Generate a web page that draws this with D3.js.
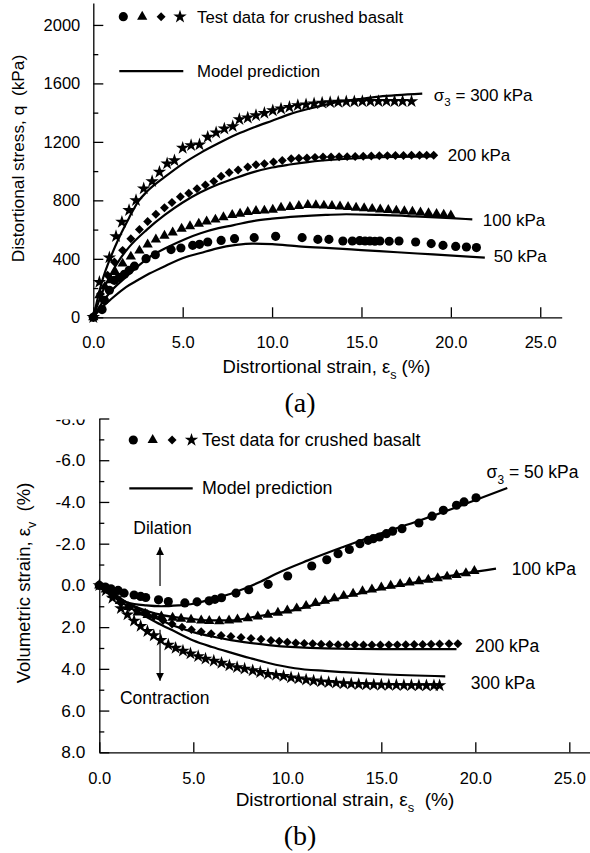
<!DOCTYPE html>
<html>
<head>
<meta charset="utf-8">
<script src="https://cdn.jsdelivr.net/npm/d3@7"></script>
<style>
body { margin: 0; background: #fff; }
text { font-family: "Liberation Sans", Arial, sans-serif; fill: #000; }
.axis path, .axis line { stroke: #000; stroke-width: 1.3px; }
.axis text { font-family: "Liberation Sans", Arial, sans-serif; font-size: 16.5px; }
</style>
</head>
<body>
<svg id="chart" width="590" height="853"></svg>
<script>
// ---------- (a) distortional stress q (kPa) vs distortional strain (%) ----------
var strainTicks = [0, 5, 10, 15, 20, 25];
var qTicks = [0, 400, 800, 1200, 1600, 2000];
var qMinorTicks = [200, 600, 1000, 1400, 1800];

var testQ50 = [[0,0],[0.49,53],[0.62,116],[0.9,185],[1.18,253],[1.45,272],[1.74,294],[2.0,321],[2.3,350],[2.95,401],[3.47,428],[4.35,463],[4.9,474],[5.56,492],[5.94,499],[6.4,515],[7.15,526],[7.9,538],[9.0,545],[10.2,554],[11.68,545],[12.56,533],[13.18,533],[13.96,522],[14.49,522],[14.9,524],[15.2,522],[15.47,522],[15.75,520],[16.03,522],[16.55,520],[17.1,522],[18.03,515],[18.9,504],[19.56,492],[20.27,485],[20.87,481],[21.43,477]];
var testQ100 = [[0,0],[0.34,150],[0.65,210],[1.0,253],[1.23,310],[1.64,367],[2.1,415],[2.58,456],[3.04,498],[3.5,532],[3.98,558],[4.44,580],[4.94,606],[5.41,623],[5.9,640],[6.34,655],[6.83,668],[7.28,685],[7.77,700],[8.21,709],[8.64,720],[9.1,727],[9.57,730],[10.04,736],[10.5,750],[11.0,754],[11.5,761],[12.0,768],[12.45,766],[12.9,764],[13.35,762],[13.8,758],[14.25,755],[14.7,750],[15.15,746],[15.6,742],[16.05,738],[16.5,734],[16.95,730],[17.4,726],[17.85,722],[18.3,717],[18.75,712],[19.2,707],[19.6,702],[20.0,697]];
var testQ200 = [[0,0],[0.4,160],[0.8,287],[1.18,378],[1.64,458],[2.1,538],[2.58,600],[3.04,655],[3.5,705],[3.98,750],[4.4,785],[4.87,825],[5.34,848],[5.8,880],[6.27,905],[6.74,930],[7.15,965],[7.6,990],[8.1,1008],[8.64,1028],[9.1,1044],[9.57,1051],[10.08,1062],[10.57,1073],[11.07,1085],[11.5,1088],[11.95,1090],[12.4,1094],[12.85,1096],[13.3,1097],[13.75,1098],[14.2,1099],[14.65,1100],[15.1,1102],[15.55,1104],[16.0,1105],[16.45,1106],[16.9,1107],[17.35,1107],[17.8,1108],[18.25,1108],[18.65,1108],[19.04,1108]];
var testQ300 = [[0,0],[0.34,241],[0.9,408],[1.27,554],[1.6,652],[2.0,732],[2.39,800],[2.82,880],[3.29,930],[3.7,994],[4.13,1051],[4.54,1073],[5.0,1158],[5.47,1176],[5.94,1181],[6.4,1233],[6.87,1263],[7.33,1290],[7.8,1306],[8.17,1354],[8.64,1365],[9.1,1381],[9.57,1397],[10.04,1415],[10.5,1427],[10.97,1438],[11.44,1450],[11.9,1455],[12.35,1462],[12.8,1467],[13.25,1470],[13.7,1473],[14.15,1475],[14.6,1476],[15.05,1477],[15.5,1478],[15.95,1478],[16.4,1479],[16.85,1478],[17.3,1478],[17.8,1477]];

var modelQ50 = [[0,0],[0.5,70],[1,125],[1.83,207],[2.5,255],[3.14,299],[4,350],[5.19,412],[6,440],[6.87,470],[8,495],[8.9,504],[10,500],[11.5,485],[13,475],[15,460],[17,445],[19,430],[21.9,408]];
var modelQ100 = [[0,0],[0.5,100],[1,180],[1.83,276],[2.5,350],[3.14,412],[4,470],[5.19,538],[6,575],[7,610],[7.8,629],[9,660],[10,675],[11.5,690],[13,700],[14.15,705],[16,700],[18,690],[20,678],[21.2,670]];
var modelQ200 = [[0,0],[0.5,170],[1,300],[1.5,400],[2,480],[3,600],[4,700],[5,785],[6,855],[7,910],[8,955],[9,995],[10,1025],[11,1045],[12,1062],[14,1083],[16,1095],[19,1100]];
var modelQ300 = [[0,0],[0.5,250],[1,420],[1.5,560],[2,680],[2.5,790],[3,860],[4,960],[5,1050],[6,1125],[7,1190],[8,1250],[9,1300],[10,1345],[11,1390],[12,1425],[13,1455],[14,1478],[15,1495],[16,1510],[17,1520],[18.4,1530]];

// ---------- (b) volumetric strain (%) vs distortional strain (%) ----------
var evTicks = [-8, -6, -4, -2, 0, 2, 4, 6, 8];
var evMinorTicks = [-7, -5, -3, -1, 1, 3, 5, 7];

var testEv50 = [[0,0],[0.32,0.08],[0.62,0.16],[1.0,0.24],[1.32,0.37],[1.85,0.46],[2.2,0.53],[2.47,0.58],[3.15,0.69],[3.67,0.77],[4.55,0.84],[5.2,0.79],[5.84,0.74],[6.15,0.67],[6.5,0.59],[7.27,0.37],[7.95,0.21],[8.98,-0.05],[10.02,-0.45],[11.3,-0.93],[12.1,-1.23],[12.7,-1.52],[13.3,-1.72],[13.86,-2.0],[14.3,-2.16],[14.57,-2.24],[14.9,-2.32],[15.27,-2.48],[15.6,-2.6],[16.1,-2.72],[17.0,-2.99],[17.7,-3.32],[18.3,-3.6],[19.0,-3.84],[19.4,-4.0],[20.04,-4.2]];
var testEv100 = [[0,0],[0.35,0.2],[0.7,0.45],[1.1,0.75],[1.54,1.04],[2.04,1.3],[2.57,1.42],[3.3,1.49],[3.9,1.55],[4.35,1.6],[4.88,1.65],[5.42,1.68],[5.85,1.71],[6.38,1.72],[6.9,1.68],[7.35,1.63],[7.9,1.57],[8.43,1.49],[8.97,1.41],[9.5,1.31],[10.0,1.2],[10.5,1.1],[11.0,0.98],[11.5,0.85],[12.0,0.74],[12.5,0.62],[13.0,0.5],[13.5,0.4],[14.0,0.28],[14.5,0.2],[15.0,0.1],[15.5,0.02],[16.0,-0.06],[16.5,-0.14],[17.0,-0.2],[17.5,-0.27],[18.0,-0.34],[18.5,-0.42],[19.0,-0.5],[19.5,-0.58],[19.95,-0.69]];
var testEv200 = [[0,0],[0.4,0.2],[0.8,0.5],[1.15,0.85],[1.6,1.05],[2.0,1.2],[2.44,1.3],[2.9,1.49],[3.39,1.68],[3.87,1.85],[4.4,2.0],[4.9,2.12],[5.42,2.22],[5.95,2.32],[6.48,2.4],[7.0,2.45],[7.54,2.5],[8.07,2.54],[8.6,2.58],[9.13,2.64],[9.57,2.68],[10.0,2.72],[10.45,2.76],[10.9,2.78],[11.35,2.8],[11.8,2.82],[12.25,2.83],[12.7,2.84],[13.15,2.85],[13.6,2.85],[14.05,2.86],[14.5,2.86],[14.95,2.86],[15.4,2.85],[15.85,2.85],[16.3,2.84],[16.75,2.83],[17.2,2.83],[17.65,2.82],[18.1,2.81],[18.6,2.8],[19.07,2.8]];
var testEv300 = [[0,0],[0.35,0.25],[0.7,0.6],[1.15,1.1],[1.5,1.4],[1.85,1.7],[2.2,1.95],[2.56,2.2],[2.9,2.4],[3.27,2.62],[3.67,2.85],[4.06,3.0],[4.45,3.14],[4.85,3.27],[5.26,3.4],[5.65,3.52],[6.09,3.62],[6.5,3.72],[6.92,3.84],[7.33,3.93],[7.73,4.0],[8.16,4.08],[8.56,4.16],[8.97,4.25],[9.4,4.3],[9.8,4.35],[10.2,4.42],[10.6,4.47],[11.0,4.52],[11.4,4.57],[11.8,4.61],[12.2,4.64],[12.6,4.67],[13.0,4.7],[13.4,4.72],[13.8,4.74],[14.2,4.75],[14.6,4.76],[15.0,4.77],[15.4,4.78],[15.8,4.78],[16.2,4.79],[16.6,4.79],[17.0,4.8],[17.4,4.8],[17.8,4.8],[18.1,4.8]];

var modelEv50 = [[0,0],[0.5,0.3],[1,0.6],[1.5,0.82],[2.5,0.96],[3.3,1.0],[4.2,0.96],[5,0.88],[6,0.65],[7,0.4],[7.7,0.16],[8.5,-0.15],[9.5,-0.6],[11.1,-1.2],[13,-1.85],[15,-2.5],[17,-3.1],[19,-3.75],[21.7,-4.67]];
var modelEv100 = [[0,0],[1,0.6],[2,1.05],[3,1.35],[4,1.52],[5,1.62],[6,1.68],[7,1.68],[8,1.55],[9,1.4],[10.4,1.17],[12,0.8],[14,0.35],[16,0.0],[18,-0.35],[21.1,-0.8]];
var modelEv200 = [[0,0],[1,0.55],[1.5,0.85],[2,1.1],[3,1.55],[4,1.95],[5,2.24],[6,2.45],[7,2.62],[7.7,2.72],[9,2.86],[10.4,2.96],[12,3.02],[15,3.05],[19,3.05]];
var modelEv300 = [[0,0],[1,0.7],[2,1.25],[3,1.75],[4,2.2],[5,2.64],[6,2.95],[7,3.22],[8,3.48],[9,3.72],[10.4,3.97],[12,4.1],[13,4.16],[15,4.26],[18.4,4.36]];

var svg = d3.select('#chart');

// marker styles
var markers = {
    circle:   { type: d3.symbolCircle,   size: 66, rot: 0 },
    triangle: { type: d3.symbolTriangle, size: 46, rot: 0 },
    diamond:  { type: d3.symbolSquare,   size: 40, rot: 45 },
    star:     { type: d3.symbolStar,     size: 56, rot: 0 }
};
var markerOrder = ['circle', 'triangle', 'diamond', 'star'];

function drawMarker(g, kind, px, py) {
    var m = markers[kind];
    g.append('path')
        .attr('d', d3.symbol().type(m.type).size(m.size)())
        .attr('transform', 'translate(' + px + ',' + py + ') rotate(' + m.rot + ')')
        .attr('fill', '#000');
}

function fmt1(v) {
    var s = Math.abs(v).toFixed(1);
    return v < 0 ? '-' + s : s;
}

// text with a subscript: parts = [[text, isSub, isAfterSub], ...]
function richText(g, parts, fontSize) {
    var t = g.append('text').style('font-size', fontSize + 'px').style('white-space', 'pre');
    parts.forEach(function(p) {
        var ts = t.append('tspan').text(p[0]);
        if (p[1]) ts.attr('dy', fontSize * 0.3).style('font-size', (fontSize * 0.68) + 'px');
        else if (p[2]) ts.attr('dy', -fontSize * 0.3);
    });
    return t;
}

function drawPanel(cfg) {
    var x = cfg.x, y = cfg.y;
    var g = svg.append('g');

    // minor y ticks
    g.append('g').attr('class', 'axis')
        .attr('transform', 'translate(' + x.range()[0] + ',0)')
        .call(d3.axisLeft(y).tickValues(cfg.yMinor).tickSize(-5).tickSizeOuter(0).tickFormat(''))
        .select('.domain').remove();

    var yAx = g.append('g').attr('class', 'axis')
        .attr('transform', 'translate(' + x.range()[0] + ',0)')
        .call(d3.axisLeft(y).tickValues(cfg.yTicks).tickSize(-10).tickSizeOuter(0)
            .tickPadding(cfg.yPad).tickFormat(cfg.yFormat));
    yAx.selectAll('text').style('font-size', cfg.yFont + 'px');
    if (cfg.coverTop != null) {
        // the top tick label is cut off in the original figure
        g.append('rect').attr('x', 30).attr('y', cfg.coverTop - 20)
            .attr('width', x.range()[0] - 31).attr('height', 20).attr('fill', '#fff');
    }

    var xAx = g.append('g').attr('class', 'axis')
        .attr('transform', 'translate(0,' + y.range()[0] + ')')
        .call(d3.axisBottom(x).tickValues(strainTicks).tickSize(-10).tickSizeOuter(0)
            .tickPadding(cfg.xPad).tickFormat(fmt1));
    xAx.selectAll('text').style('font-size', cfg.xFont + 'px');

    // model prediction lines
    var line = d3.line().x(function(d) { return x(d[0]); }).y(function(d) { return y(d[1]); })
        .curve(d3.curveMonotoneX);
    cfg.models.forEach(function(m) {
        g.append('path').attr('d', line(m)).attr('fill', 'none')
            .attr('stroke', '#000').attr('stroke-width', 2.2);
    });

    // test data
    cfg.tests.forEach(function(s, i) {
        s.forEach(function(d) { drawMarker(g, markerOrder[i], x(d[0]), y(d[1])); });
    });

    // legend
    var lx = cfg.legend[0], ly = cfg.legend[1];
    markerOrder.forEach(function(k, i) {
        drawMarker(g, k, lx + i * cfg.legendGap, ly);
    });
    g.append('text').attr('x', cfg.legendText).attr('y', ly + 6)
        .style('font-size', cfg.legendFont + 'px').text('Test data for crushed basalt');
    g.append('line').attr('x1', lx - 4).attr('x2', lx - 4 + cfg.legendLine)
        .attr('y1', ly + cfg.legendRow).attr('y2', ly + cfg.legendRow)
        .attr('stroke', '#000').attr('stroke-width', 2.2);
    g.append('text').attr('x', cfg.legendText).attr('y', ly + cfg.legendRow + 6)
        .style('font-size', cfg.legendFont + 'px').text('Model prediction');

    // series labels
    cfg.labels.forEach(function(l) {
        var t;
        if (l.sigma) {
            t = richText(g, [['\u03c3'], ['3', true], [' = ' + l.text, false, true]], cfg.labelFont);
        } else {
            t = g.append('text').style('font-size', cfg.labelFont + 'px').text(l.text);
        }
        t.attr('x', x(l.at[0])).attr('y', y(l.at[1]));
    });
    return g;
}

// ---- panel (a)
var xa = d3.scaleLinear().domain([0, 26.2]).range([93.3, 561.7]);
var ya = d3.scaleLinear().domain([0, 2150]).range([317.3, 3]);
drawPanel({
    x: xa, y: ya,
    yTicks: qTicks, yMinor: qMinorTicks, yFormat: d3.format('d'), yPad: 13, yFont: 16.5,
    xPad: 19, xFont: 16.5,
    models: [modelQ50, modelQ100, modelQ200, modelQ300],
    tests: [testQ50, testQ100, testQ200, testQ300],
    legend: [123.3, 16.7], legendGap: 18.9, legendText: 197, legendFont: 16.8,
    legendLine: 64, legendRow: 54.5, labelFont: 17,
    labels: [
        { text: '300 kPa', sigma: true, at: [19.05, 1480] },
        { text: '200 kPa', at: [19.83, 1069] },
        { text: '100 kPa', at: [21.79, 624] },
        { text: '50 kPa', at: [22.4, 378] }
    ]
});

var ta = richText(svg, [['Distrortional strain, \u03b5'], ['s', true], [' (%)', false, true]], 18.5);
ta.attr('x', 326.5).attr('y', 373).attr('text-anchor', 'middle');
var ya_t = svg.append('g').attr('transform', 'translate(24,158.5) rotate(-90)');
ya_t.append('text').attr('text-anchor', 'middle').style('font-size', '17.3px')
    .style('white-space', 'pre').text('Distortional stress, q  (kPa)');
svg.append('text').attr('x', 300).attr('y', 412).attr('text-anchor', 'middle')
    .style('font-family', '"Liberation Serif", "Times New Roman", serif').style('font-size', '28px').text('(a)');

// ---- panel (b)
var xb = d3.scaleLinear().domain([0, 26.1]).range([99.3, 590]);
var yb = d3.scaleLinear().domain([8, -8]).range([752.3, 418.5]);
var gb = drawPanel({
    x: xb, y: yb,
    yTicks: evTicks, yMinor: evMinorTicks, yFormat: fmt1, yPad: 14, yFont: 17.3,
    xPad: 20, xFont: 16.5, coverTop: 419.5,
    models: [modelEv50, modelEv100, modelEv200, modelEv300],
    tests: [testEv50, testEv100, testEv200, testEv300],
    legend: [133.3, 440], legendGap: 19.4, legendText: 202, legendFont: 17.8,
    legendLine: 63.4, legendRow: 48.3, labelFont: 17.5,
    labels: [
        { text: '50 kPa', sigma: true, at: [20.6, -5.13] },
        { text: '100 kPa', at: [21.94, -0.5] },
        { text: '200 kPa', at: [19.98, 3.18] },
        { text: '300 kPa', at: [19.76, 4.95] }
    ]
});

// dilation / contraction arrows
svg.append('defs').append('marker').attr('id', 'head')
    .attr('viewBox', '0 0 10 10').attr('refX', 10).attr('refY', 5)
    .attr('markerWidth', 8).attr('markerHeight', 9).attr('markerUnits', 'userSpaceOnUse')
    .attr('orient', 'auto')
    .append('path').attr('d', 'M0,0L10,5L0,10Z').attr('fill', '#000');
gb.append('line').attr('x1', xb(3.23)).attr('x2', xb(3.23)).attr('y1', yb(0.03)).attr('y2', yb(-1.83))
    .attr('stroke', '#000').attr('stroke-width', 1.2).attr('marker-end', 'url(#head)');
gb.append('line').attr('x1', xb(3.23)).attr('x2', xb(3.23)).attr('y1', yb(2.13)).attr('y2', yb(4.57))
    .attr('stroke', '#000').attr('stroke-width', 1.2).attr('marker-end', 'url(#head)');
gb.append('text').attr('x', xb(1.81)).attr('y', yb(-2.46)).style('font-size', '17.5px').text('Dilation');
gb.append('text').attr('x', xb(1.1)).attr('y', yb(5.67)).style('font-size', '17.5px').text('Contraction');

var tb = richText(svg, [['Distrortional strain, \u03b5'], ['s', true], ['  (%)', false, true]], 19);
tb.attr('x', 345).attr('y', 806).attr('text-anchor', 'middle');
var yb_t = richText(svg, [['Volumetric strain, \u03b5'], ['v', true], ['  (%)', false, true]], 18.5);
yb_t.attr('text-anchor', 'middle').attr('transform', 'translate(30,583) rotate(-90)');
svg.append('text').attr('x', 300).attr('y', 845).attr('text-anchor', 'middle')
    .style('font-family', '"Liberation Serif", "Times New Roman", serif').style('font-size', '28px').text('(b)');
</script>
</body>
</html>
